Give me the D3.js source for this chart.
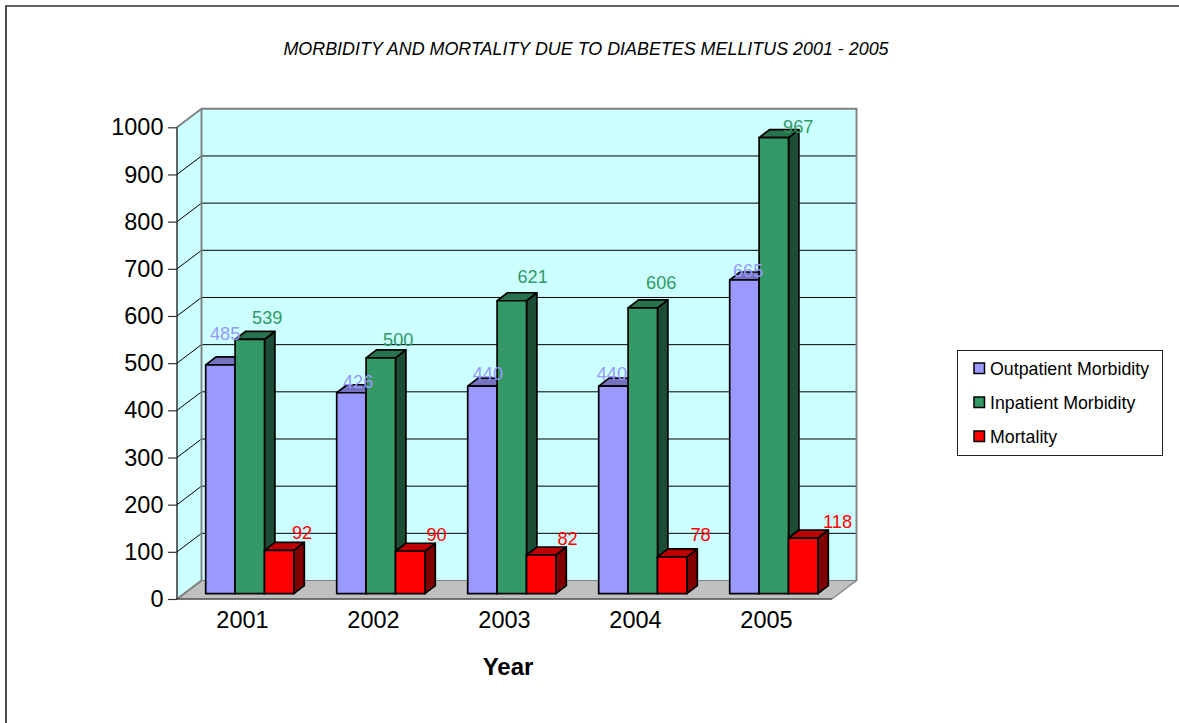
<!DOCTYPE html>
<html><head><meta charset="utf-8">
<script src="https://cdn.jsdelivr.net/npm/d3@7/dist/d3.min.js"></script>
<style>html,body{margin:0;padding:0;background:#fff}svg{display:block}text{font-family:"Liberation Sans",Arial,sans-serif}</style>
</head><body><svg id="c" width="1179" height="723"></svg>
<script>
const chartTitle = "MORBIDITY AND MORTALITY DUE TO DIABETES MELLITUS 2001 - 2005";
const xTitle = "Year";
const years = ["2001","2002","2003","2004","2005"];
const seriesNames = ["Outpatient Morbidity","Inpatient Morbidity","Mortality"];
const outpatient = [485,426,440,440,665];
const inpatient = [539,500,621,606,967];
const mortality = [92,90,82,78,118];
const yTicks = [0,100,200,300,400,500,600,700,800,900,1000];

const seriesValues = [outpatient,inpatient,mortality];
const fills = ["#9999ff","#339966","#ff0000"];
const tops = ["#7373bf","#26734d","#bf0000"];
const sides = ["#4d4d80","#1a4d33","#800000"];
const labelColors = ["#9999ff","#339966","#ff0000"];
// manual label placement in the original chart (offset from the bar's top-left corner)
const labelDx = [[4.3,6.3,5,-2,3.3],[17,17,20.4,18,24],[27.5,31,31,33,34.5]];
const labelDy = [[-25,-5,-6,-6,-3],[-15,-12,-18,-19,-4.5],[-11,-10,-10,-16,-10]];

const svg = d3.select("#c");
const x0 = d3.scaleBand().domain(years).range([177,832]);
const y = d3.scaleLinear().domain([0,1000]).range([599,127.3]);
const wallDx = 24.5, wallDy = -18.5;      // depth of the chart box
const barInner = d3.scaleBand().domain(d3.range(3)).range([28.7,116.9]);
const barLift = 5.3, barDx = 10.4, barDy = -8;

// frame
svg.append("path").attr("d","M6,723V6H1179").attr("fill","none").attr("stroke","#303030").attr("stroke-width",1.7);

const right = x0.range()[1], left = x0.range()[0];
const yB = v => y(v)+wallDy;
// side wall
svg.append("path").attr("d",`M${left},${y(0)}L${left+wallDx},${yB(0)}V${yB(1000)}L${left},${y(1000)}Z`).attr("fill","#ccffff");
// back wall
svg.append("rect").attr("x",left+wallDx).attr("y",yB(1000)).attr("width",right-left).attr("height",y(0)-y(1000)).attr("fill","#ccffff");
// floor
svg.append("path").attr("d",`M${left},${y(0)}L${left+wallDx},${yB(0)}H${right+wallDx}L${right},${y(0)}Z`).attr("fill","#c0c0c0").attr("stroke","#808080").attr("stroke-width",1.2);
// gridlines
yTicks.slice(1,-1).forEach(t=>{
  svg.append("path").attr("d",`M${left},${y(t)}L${left+wallDx},${yB(t)}H${right+wallDx}`).attr("fill","none").attr("stroke","#000").attr("stroke-width",1);
});
// wall outlines
svg.append("path").attr("d",`M${left},${y(1000)}L${left+wallDx},${yB(1000)}H${right+wallDx}V${yB(0)}`).attr("fill","none").attr("stroke","#808080").attr("stroke-width",1.9);
svg.append("path").attr("d",`M${left+wallDx},${yB(1000)}V${yB(0)}L${left},${y(0)}`).attr("fill","none").attr("stroke","#808080").attr("stroke-width",1.9);

// bars
years.forEach((yr,i)=>{
  seriesValues.forEach((vals,s)=>{
    const v = vals[i];
    const bx = x0(yr)+barInner(s), bw = barInner.bandwidth();
    const by0 = y(0)-barLift, byt = y(v)-barLift;
    const g = svg.append("g").attr("stroke","#000").attr("stroke-width",1.7).attr("stroke-linejoin","round");
    g.append("path").attr("fill",sides[s]).attr("d",`M${bx+bw},${byt}l${barDx},${barDy}V${by0+barDy}L${bx+bw},${by0}Z`);
    g.append("path").attr("fill",tops[s]).attr("d",`M${bx},${byt}l${barDx},${barDy}h${bw}l${-barDx},${-barDy}Z`);
    g.append("rect").attr("x",bx).attr("y",byt).attr("width",bw).attr("height",by0-byt).attr("fill",fills[s]);
  });
});
// value labels
years.forEach((yr,i)=>{
  seriesValues.forEach((vals,s)=>{
    const v = vals[i];
    svg.append("text").attr("x",x0(yr)+barInner(s)+labelDx[s][i]).attr("y",y(v)-barLift+labelDy[s][i])
      .attr("font-size",18.2).attr("fill",labelColors[s]).text(v);
  });
});

// axes
const yAxis = d3.axisLeft(y).tickValues(yTicks).tickSize(9).tickPadding(4.5).tickFormat(d3.format("d"));
const gy = svg.append("g").attr("transform",`translate(${left},0)`).call(yAxis);
gy.select(".domain").attr("stroke","#000").attr("stroke-width",1.2).attr("d",`M0,${y(1000)}V${y(0)}`);
gy.selectAll(".tick line").attr("stroke","#333").attr("stroke-width",1.2);
gy.selectAll("text").attr("font-size",23.5).attr("font-family",'"Liberation Sans",Arial,sans-serif').attr("fill","#000");

const xAxis = d3.axisBottom(x0).tickSize(0).tickPadding(12);
const gx = svg.append("g").attr("transform",`translate(0,${y(0)})`).call(xAxis);
gx.select(".domain").attr("stroke","#333").attr("stroke-width",1.2).attr("d",`M${left},0H${right}`);
gx.selectAll("text").attr("font-size",23.5).attr("font-family",'"Liberation Sans",Arial,sans-serif').attr("fill","#000");

// titles
svg.append("text").attr("x",586).attr("y",55).attr("text-anchor","middle").attr("font-size",17.9).attr("font-style","italic").text(chartTitle);
svg.append("text").attr("x",508).attr("y",675).attr("text-anchor","middle").attr("font-size",24).attr("font-weight","bold").text(xTitle);

// legend
const lg = svg.append("g");
lg.append("rect").attr("x",957.5).attr("y",350.5).attr("width",205).attr("height",105).attr("fill","#fff").attr("stroke","#222").attr("stroke-width",1);
seriesNames.forEach((n,i)=>{
  const ly = 368+i*34;
  lg.append("rect").attr("x",974).attr("y",ly-5).attr("width",10.5).attr("height",10.5).attr("fill",fills[i]).attr("stroke","#000").attr("stroke-width",1.5);
  lg.append("text").attr("x",990).attr("y",ly+7).attr("font-size",17.8).attr("fill","#000").text(n);
});
</script></body></html>
